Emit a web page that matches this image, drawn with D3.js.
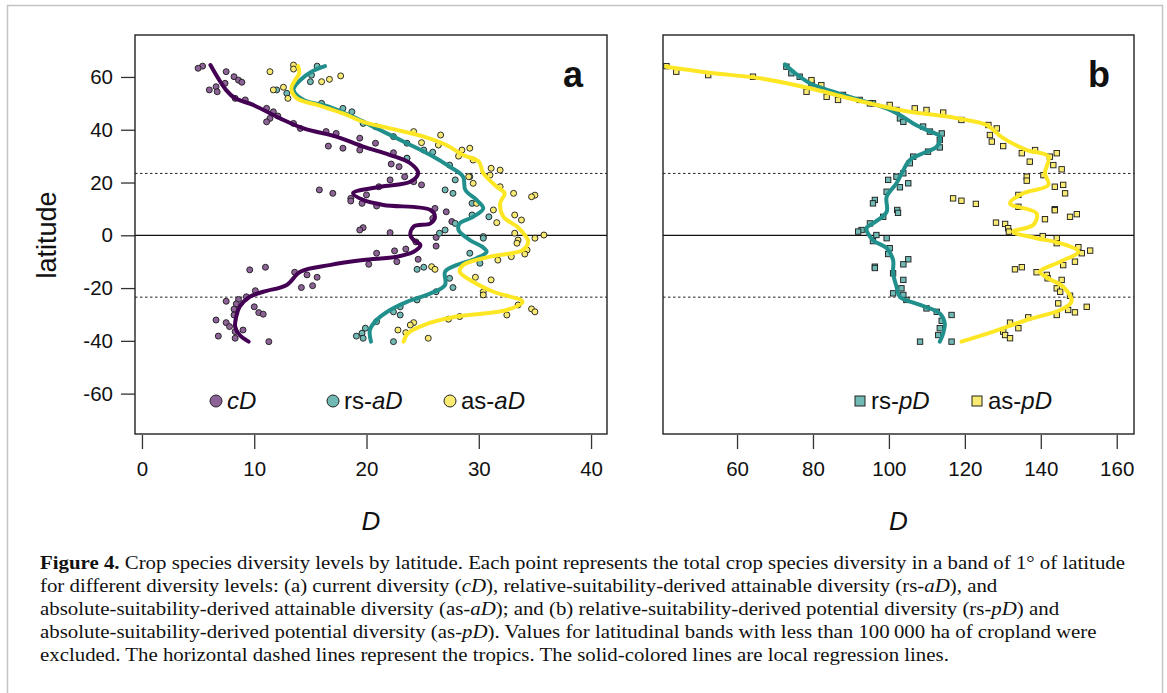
<!DOCTYPE html>
<meta charset="utf-8">
<head>
<title>Crop species diversity by latitude</title>
<script src="https://cdn.jsdelivr.net/npm/d3@7"></script>
<style>
body { margin:0; background:#fff; }
text { font-family: "Liberation Sans", Arial, sans-serif; }
.cap { font-family: "Liberation Serif", "Times New Roman", serif; font-size:19.5px; fill:#111; }
</style>
</head>
<body>
<svg id=mySVG width=1167 height=693></svg>
<script>
// ---- data: [latitude, D] ----
var cdPoints=[[64.1,5.4],[63.3,5.0],[62,7.5],[60.1,8.2],[58.8,8.6],[58,8.9],[57.6,7.4],[56.3,6.6],[55.1,6.0],[54.4,6.7],
 [51.9,8.3],[51.3,9.2],[48.1,11.1],[46.8,11.7],[45.2,12.1],[44.3,11.4],[43,11.1],[42.4,13.5],[40.5,14.1],[39.3,16.4],
 [38.6,17.3],[36.8,19.4],[34.9,20.8],[33.8,16.6],[33,17.9],[32.3,19.4],[31.3,22.4],[29.2,23.6],[27,22.2],[26,22.9],
 [22.2,23.4],[21,22.1],[20.3,24.2],[19.1,24.9],[18.4,21.1],[17.2,15.8],[15.9,17.0],[15.3,20.0],[14,18.6],[13,18.6],
 [12.1,19.6],[11.1,20.9],[10.2,26.1],[8.9,27.1],[6.4,25.9],[5.2,27.6],[2.9,19.7],[2.0,19.4],[1.0,22.1],[-0.8,26.2],
 [-2.5,24.4],[-4.1,26.2],[-5.2,23.5],[-5.9,22.5],[-6.8,20.9],[-9.1,24.6],[-10,22.7],[-11,20.2],[-12.1,11.0],[-13.1,9.6],
 [-14,13.6],[-15,14.7],[-15.9,15.6],[-19.1,15.2],[-19.8,14.2],[-21,10.1],[-23.3,9.3],[-24.3,8.6],[-25,7.5],[-26,8.4],
 [-27.1,10.0],[-28,8.2],[-29.3,10.4],[-29.9,10.8],[-30.2,8.2],[-32.1,6.6],[-33.1,7.5],[-34.6,7.8],[-35.9,9.0],[-36.5,8.3],
 [-38.2,6.8],[-39,8.3],[-40.3,11.3]]
var rsaPoints=[[64.1,15.6],[60.7,15.1],[58.2,15.0],[55.1,12.0],[53.8,12.9],[50,16.0],[48.1,17.9],[46.8,18.7],[42.4,19.7],[41.2,20.8],
 [37.4,22.4],[34.9,23.6],[32.3,25.1],[31.5,25.9],[29.2,23.6],[26.6,27.4],[22.2,29.2],[21,27.9],[17.2,27.0],[15.9,27.7],
 [12.1,29.4],[7.7,29.4],[7,30.9],[4.5,27.9],[2,27.0],[0.8,26.5],[-0.5,30.4],[-1.1,30.4],[-6.8,29.2],[-10.6,30.1],
 [-12.1,25.1],[-12.9,24.5],[-16.3,27.4],[-19.8,27.7],[-21.4,26.2],[-24.5,24.5],[-27.1,23.0],[-29,22.4],[-30.2,23.0],[-32.7,20.9],
 [-35.2,19.9],[-37.1,19.6],[-38.2,19.1],[-39,19.7],[-40.3,22.4]]
var asaPoints=[[64.5,13.5],[63,13.5],[62,11.4],[60.4,17.7],[59.1,16.7],[58.2,16.0],[56.1,12.6],[55.1,11.7],[51.9,13.0],[39.3,24.2],
 [38,26.6],[35.1,24.9],[34.2,26.4],[33,29.2],[32.3,28.5],[30,28.2],[28.5,29.5],[25.4,31.1],[24.7,31.9],[22.8,31.0],
 [22.2,29.1],[19.7,29.5],[18.4,31.9],[15.9,33.1],[15.2,35.0],[14.6,34.7],[12.1,29.8],[9.6,31.3],[7.7,33.2],[5.8,33.8],
 [4.8,31.6],[0.8,33.2],[0.1,35.8],[-1.1,35.0],[-1.8,33.5],[-3,33.4],[-5.6,34.3],[-7.1,34.1],[-8.1,32.9],[-9.4,31.7],
 [-11.9,25.8],[-12.9,26.1],[-15.9,29.7],[-16.9,31.1],[-21.4,30.4],[-22.6,30.4],[-26.4,33.5],[-27.9,34.7],[-29,35.0],[-30.2,32.5],
 [-30.8,28.3],[-31.8,27.3],[-33.1,24.2],[-34,23.9],[-35.9,22.8],[-36.9,23.5],[-39,25.5]]
var rspPoints=[[63.9,73.0],[61.4,74.3],[60.1,76.5],[57.6,79.6],[53.2,87.9],[51.3,92.3],[50,95.8],[47.5,102.0],[44.3,102.9],[43,103.8],
 [41.2,109.0],[39.3,110.8],[38.6,113.9],[36.1,113.4],[33.3,113.4],[31.7,110.3],[29.8,106.4],[27.3,105.5],[23.5,103.8],[22.2,102.0],
 [21,99.8],[19.7,105.1],[18.2,102.9],[16.5,99.4],[13.4,96.3],[12.1,95.8],[9.6,102.2],[8.5,102.4],[7,98.5],[4.5,95.0],
 [2,92.8],[1.4,91.9],[0.1,96.7],[-1.1,99.4],[-2.2,95.8],[-4.9,100.2],[-7.1,99.8],[-9.1,105.1],[-11,103.8],[-11.9,96.3],
 [-12.4,96.3],[-14.4,101.1],[-16.9,103.8],[-20.1,103.3],[-22,101.1],[-22.6,103.8],[-24.5,104.6],[-27.7,109.9],[-29,112.6],[-30.2,116.5],
 [-32.4,113.9],[-35.2,113.4],[-37.8,113.0],[-40.3,108.2],[-40.3,116.5]]
var aspPoints=[[64.1,41.4],[62,44.0],[60.7,52.4],[60.1,64.2],[58.8,79.6],[56.9,82.2],[54.4,78.3],[52.5,83.6],[51.3,86.6],[50,95.0],
 [49.4,100.2],[48.1,106.8],[47.5,109.9],[46.5,114.3],[43.7,119.1],[41.8,126.2],[40.5,128.4],[38,126.6],[35.5,127.1],[33.8,130.1],
 [32.3,138.5],[31.1,135.0],[31.1,144.2],[29.8,142.4],[27.9,137.1],[26.6,143.3],[25,145.5],[22.8,140.7],[22.2,136.3],[20.7,136.3],
 [19.1,145.9],[18.4,143.7],[15.9,146.4],[15.3,134.1],[14,116.9],[13.1,119.1],[11.9,122.9],[10.8,134.1],[9.9,143.7],[9.5,143.7],
 [8,149.5],[7,147.7],[6.1,141.1],[4.8,128.2],[4.3,130.6],[2.7,131.4],[1.4,131.6],[-0.3,140.5],[-1.1,144.2],[-3,144.2],
 [-4.5,149.9],[-5.8,153.0],[-6.8,150.8],[-10,149.0],[-11.3,145.9],[-12.1,135.0],[-12.9,133.2],[-14,138.9],[-15,141.6],[-16.3,141.8],
 [-16.9,145.5],[-20.1,144.2],[-21.4,145.1],[-22.9,147.7],[-25.8,144.6],[-27.1,152.1],[-28.3,147.2],[-29.2,149.0],[-30.2,144.2],[-31.1,136.7],
 [-33.1,131.9],[-35.2,134.1],[-36.5,130.1],[-37.8,130.6],[-39,131.9]]

// ---- local regression lines: [latitude, D] ----
var cdLine=[[64.5,6.1],[55,7.5],[51.9,8.3],[49.4,9.9],[44.3,12.3],[40.5,14.4],[37.4,17.3],[33.6,19.7],[30.4,22.1],[27.3,23.9],
 [23.5,24.6],[20.3,23.9],[18.4,21.2],[15.9,18.8],[13.4,19.7],[11.5,21.5],[9.6,25.7],[7.0,26.1],[4.5,25.7],[3.3,24.2],
 [0.1,23.9],[-1.8,24.2],[-3.7,24.8],[-6.2,24.2],[-8.1,22.7],[-9.4,19.7],[-11.3,16.7],[-13.8,14.1],[-18.8,12.9],[-21.4,10.8],
 [-23.3,9.6],[-27.1,8.7],[-30.8,8.4],[-34.6,8.3],[-37.8,8.7],[-40.3,9.5]]
var rsaLine=[[64.1,16.3],[62,15.1],[58.8,14.1],[55.1,13.5],[51.3,14.4],[48.7,16.7],[44.3,19.1],[39.9,21.2],[34.9,23.6],[30.4,25.7],
 [26,27.4],[22.2,28.6],[17.2,28.8],[13.4,29.8],[10.2,30.4],[7.0,29.5],[4.5,28.3],[2.0,28.2],[-1.8,29.2],[-4.3,30.3],
 [-6.2,30.7],[-8.7,29.8],[-11.3,28.0],[-13.8,27.0],[-18.8,27.0],[-22,25.7],[-25.2,23.6],[-28.3,22.1],[-32.1,20.9],[-35.9,20.3],
 [-40.3,20.4]]
var asaLine=[[64.1,13.9],[61.4,14.0],[58.5,13.6],[55.7,13.3],[51.9,13.8],[49.4,15.6],[46.2,17.9],[43,19.7],[40.5,22.1],[37.4,25.1],[34.2,27.1],
 [30.4,28.6],[27.9,30.0],[23.5,30.4],[18.4,31.6],[15.9,32.3],[12.1,31.9],[7.0,32.2],[3.3,33.4],[0.1,34.1],[-2.4,34.4],
 [-5.6,33.9],[-8.1,31.0],[-11.3,28.6],[-13.8,28.3],[-17.6,29.5],[-21.4,31.3],[-25.2,33.9],[-28.3,32.5],[-30.8,28.0],[-34,25.1],
 [-37.1,23.7],[-40.3,23.3]]
var rspLine=[[64.8,72.6],[62,74.8],[57.6,79.2],[54.4,85.3],[51.3,92.3],[48.1,99.4],[45.6,102.9],[42.4,106.4],[39.9,109.9],[37.4,113.4],
 [33.6,112.6],[31.1,109.0],[28.5,105.5],[24.7,103.8],[19.7,102.0],[14.6,99.4],[8.9,99.4],[4.5,95.8],[2.7,94.1],[-1.8,95.8],
 [-4.9,99.4],[-9.4,101.1],[-14.4,101.1],[-19.5,102.0],[-23.3,102.9],[-26.4,108.2],[-29.6,113.4],[-33.3,114.7],[-37.1,114.3],[-40.3,113.4]]
var aspLine=[[63.9,41.4],[61.6,52.8],[59.5,66.0],[55.7,79.2],[52.5,87.9],[49.4,96.7],[46.8,105.5],[45.2,114.3],[43.7,120.5],[41.8,125.7],
 [36.8,130.1],[32.3,136.3],[29.8,142.0],[23.5,141.1],[19.1,142.0],[15.9,135.4],[12.1,131.9],[8.3,138.9],[3.9,138.0],[1.4,132.7],
 [-1.1,138.9],[-3.0,145.1],[-6.2,149.9],[-10,145.1],[-13.8,139.8],[-16.3,142.0],[-19.5,145.9],[-25.2,148.1],[-28.3,145.1],[-32.1,136.3],
 [-36.5,127.5],[-40.3,119.1]]

var latTicks=[-60,-40,-20,0,20,40,60]
var dTicksA=[0,10,20,30,40]
var dTicksB=[60,80,100,120,140,160]
var tropics=[23.44,-23.44]

var captionLines=[
 [["b","Figure 4."],["n"," Crop species diversity levels by latitude. Each point represents the total crop species diversity in a band of 1° of latitude"]],
 [["n","for different diversity levels: (a) current diversity ("],["i","cD"],["n","), relative-suitability-derived attainable diversity (rs-"],["i","aD"],["n","), and"]],
 [["n","absolute-suitability-derived attainable diversity (as-"],["i","aD"],["n","); and (b) relative-suitability-derived potential diversity (rs-"],["i","pD"],["n",") and"]],
 [["n","absolute-suitability-derived potential diversity (as-"],["i","pD"],["n","). Values for latitudinal bands with less than 100\u2009000 ha of cropland were"]],
 [["n","excluded. The horizontal dashed lines represent the tropics. The solid-colored lines are local regression lines."]]
]

var lineCol={cd:"#440154",rs:"#21908C",as:"#FDE725"}
var ptCol={cd:"#8d6397",rs:"#71b9b5",as:"#f8ea73"}

var svg=d3.select("#mySVG")

// outer frame
svg.append("rect").attr("x",7.5).attr("y",5.5).attr("width",1155).attr("height",720)
 .attr("fill","none").attr("stroke","#c4c4c4").attr("stroke-width",1.5)

var yLat=d3.scaleLinear().domain([-75.3,75.9]).range([434,35])
var xA=d3.scaleLinear().domain([-0.62,41.42]).range([135,607])
var xB=d3.scaleLinear().domain([40.5,164.55]).range([663,1134])

function panel(x,tickVals,letter)
{
  var g=svg.append("g")
  var r=x.range()
  // tropics + equator
  tropics.forEach(function(t){
    g.append("line").attr("x1",r[0]).attr("x2",r[1]).attr("y1",yLat(t)).attr("y2",yLat(t))
     .attr("stroke","#222").attr("stroke-width",1).attr("stroke-dasharray","2.5,2.5")
  })
  g.append("line").attr("x1",r[0]).attr("x2",r[1]).attr("y1",yLat(0)).attr("y2",yLat(0))
   .attr("stroke","#111").attr("stroke-width",1.3)
  // x axis
  var ax=g.append("g").attr("transform","translate(0,"+(yLat.range()[0]+1)+")")
   .call(d3.axisBottom(x).tickValues(tickVals).tickSize(14).tickPadding(12).tickSizeOuter(0))
  ax.select(".domain").remove()
  ax.selectAll("line").attr("stroke","#333").attr("stroke-width",1.3)
  ax.selectAll("text").attr("font-size",20.5).attr("fill","#111").attr("font-family","Liberation Sans, Arial, sans-serif")
  g.append("text").text("D").attr("x",(r[0]+r[1])/2).attr("y",530).attr("text-anchor","middle")
   .attr("font-size",26).attr("font-style","italic").attr("fill","#111")
  g.append("text").text(letter).attr("x",r[1]-24).attr("y",87).attr("text-anchor","end")
   .attr("font-size",36).attr("font-weight","bold").attr("fill","#111")
  return g
}

var gA=panel(xA,dTicksA,"a")
var gB=panel(xB,dTicksB,"b")

// y axis (panel a only)
var ay=svg.append("g").attr("transform","translate(135,0)")
 .call(d3.axisLeft(yLat).tickValues(latTicks).tickFormat(function(d){return String(d)})
   .tickSize(14).tickPadding(8).tickSizeOuter(0))
ay.select(".domain").remove()
ay.selectAll("line").attr("stroke","#333").attr("stroke-width",1.3)
ay.selectAll("text").attr("font-size",20.5).attr("fill","#111").attr("font-family","Liberation Sans, Arial, sans-serif")
svg.append("text").text("latitude").attr("transform","translate(56,235) rotate(-90)")
 .attr("text-anchor","middle").attr("font-size",27).attr("fill","#111")

// points
function circles(g,x,data,key)
{
  g.selectAll(null).data(data).enter().append("circle")
   .attr("cx",function(d){return x(d[1])}).attr("cy",function(d){return yLat(d[0])})
   .attr("r",3).attr("fill",ptCol[key]).attr("stroke","#1a1a1a").attr("stroke-width",0.9)
}
function squares(g,x,data,key)
{
  g.selectAll(null).data(data).enter().append("rect")
   .attr("x",function(d){return x(d[1])-2.7}).attr("y",function(d){return yLat(d[0])-2.7})
   .attr("width",5.4).attr("height",5.4).attr("fill",ptCol[key]).attr("stroke","#1a1a1a").attr("stroke-width",0.9)
}
circles(gA,xA,cdPoints,"cd")
circles(gA,xA,rsaPoints,"rs")
circles(gA,xA,asaPoints,"as")
squares(gB,xB,rspPoints,"rs")
squares(gB,xB,aspPoints,"as")

// loess lines
function loess(g,x,data,key)
{
  var ln=d3.line().x(function(d){return x(d[1])}).y(function(d){return yLat(d[0])})
   .curve(d3.curveCatmullRom.alpha(0.5))
  g.append("path").attr("d",ln(data)).attr("fill","none").attr("stroke",lineCol[key])
   .attr("stroke-width",4).attr("stroke-linejoin","round").attr("stroke-linecap","round")
}
loess(gA,xA,cdLine,"cd")
loess(gA,xA,rsaLine,"rs")
loess(gA,xA,asaLine,"as")
loess(gB,xB,rspLine,"rs")
loess(gB,xB,aspLine,"as")

// box frames
;[xA,xB].forEach(function(x){
  var r=x.range()
  svg.append("rect").attr("x",r[0]).attr("y",35).attr("width",r[1]-r[0]).attr("height",399)
   .attr("fill","none").attr("stroke","#222").attr("stroke-width",1.4)
})

// legends
function legendItem(g,cx,shape,key,pre,it)
{
  if(shape=="c")
    g.append("circle").attr("cx",cx).attr("cy",401).attr("r",6).attr("fill",ptCol[key]).attr("stroke","#222").attr("stroke-width",1)
  else
    g.append("rect").attr("x",cx-5).attr("y",396).attr("width",10).attr("height",10).attr("fill",ptCol[key]).attr("stroke","#222").attr("stroke-width",1)
  var t=g.append("text").attr("x",cx+11).attr("y",409).attr("font-size",24).attr("fill","#111")
  if(pre) t.append("tspan").text(pre)
  t.append("tspan").text(it).attr("font-style","italic")
}
legendItem(gA,216,"c","cd","","cD")
legendItem(gA,333,"c","rs","rs-","aD")
legendItem(gA,450,"c","as","as-","aD")
legendItem(gB,860,"s","rs","rs-","pD")
legendItem(gB,977,"s","as","as-","pD")

// caption: widths stretched so line 1 spans the same run as in the figure
var capTexts=[]
captionLines.forEach(function(parts,i){
  var t=svg.append("text").attr("class","cap").attr("x",40).attr("y",569+i*23)
  parts.forEach(function(p){
    var s=t.append("tspan").text(p[1])
    if(p[0]=="b") s.attr("font-weight","bold")
    if(p[0]=="i") s.attr("font-style","italic")
  })
  capTexts.push(t)
})
var k=1085/capTexts[0].node().getComputedTextLength()
capTexts.forEach(function(t){
  var w=t.node().getComputedTextLength()
  t.attr("textLength",w*k).attr("lengthAdjust","spacingAndGlyphs")
})
</script>
</body>
